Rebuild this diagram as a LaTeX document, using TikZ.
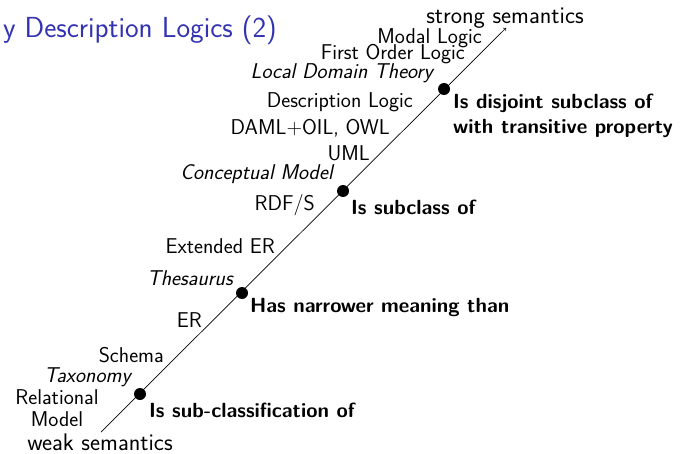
\documentclass[tikz,border=0pt]{standalone}
\usepackage{fontspec}
\definecolor{titleblue}{rgb}{0.2,0.2,0.7}
\begin{document}
\begin{tikzpicture}[x=1pt,y=-1pt,
  every node/.style={font=\fontsize{21.4}{22}\sffamily, inner sep=0pt},
  dot/.style={circle, fill=black, minimum size=12pt, inner sep=0pt},
  rel/.style={anchor=west, font=\fontsize{20.5}{25}\sffamily\bfseries},
  lang/.style={anchor=east},
  model/.style={anchor=east, font=\fontsize{21.4}{22}\sffamily\itshape},
  sem/.style={font=\fontsize{24}{26}\sffamily}]
\useasboundingbox (0,0) rectangle (684,454);
\node[anchor=base east, text=titleblue, font=\fontsize{29}{32}\sffamily] (title) at (277,38) {y Description Logics (2)};
\coordinate (lo) at (101,432);
\coordinate (hi) at (506,28);
\draw[line width=0.7pt,->] (lo) -- (hi);
\node[dot] (d1) at (140,394) {};
\node[dot] (d2) at (242,293) {};
\node[dot] (d3) at (343,191) {};
\node[dot] (d4) at (444,89) {};
\node[rel] (r1) at (149,410) {Is sub-classification of};
\node[rel] (r2) at (250,307) {Has narrower meaning than};
\node[rel] (r3) at (351,207) {Is subclass of};
\node[rel, align=left, anchor=north west] (r4) at (453,94) {Is disjoint subclass of\\with transitive property};
\node[sem] (strong) at (505,18) {strong semantics};
\node[lang] (modal) at (482,38) {Modal Logic};
\node[lang] (fol) at (465,54) {First Order Logic};
\node[model] (ldt) at (433,73) {Local Domain Theory};
\node[lang] (dl) at (413,102) {Description Logic};
\node[lang] (daml) at (390,128) {DAML+OIL, OWL};
\node[lang] (uml) at (370,153) {UML};
\node[model] (cm) at (333,174) {Conceptual Model};
\node[lang] (rdfs) at (315,205) {RDF/S};
\node[lang] (eer) at (275,246) {Extended ER};
\node[model] (thes) at (233,278) {Thesaurus};
\node[lang] (er) at (202,320) {ER};
\node[lang] (schema) at (164,355) {Schema};
\node[model] (tax) at (131,377) {Taxonomy};
\node[align=center] (rel) at (57,408) {Relational\\Model};
\node[sem] (weak) at (100,442) {weak semantics};
\end{tikzpicture}
\end{document}
